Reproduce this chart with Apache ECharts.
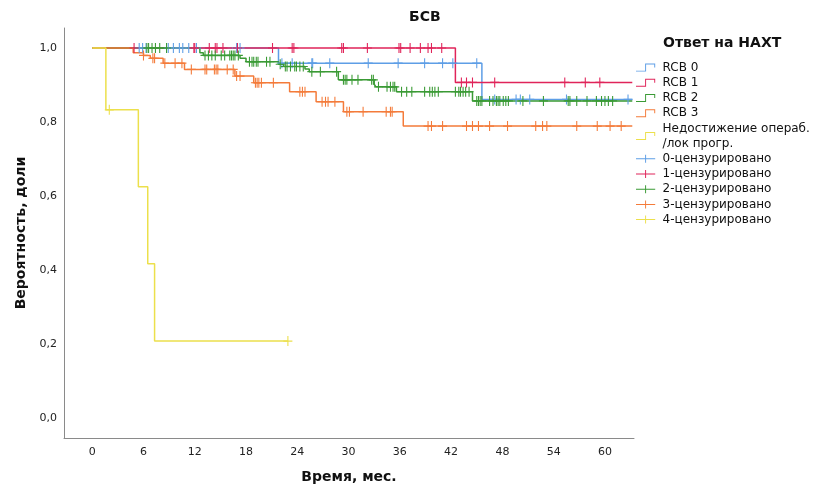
<!DOCTYPE html>
<html><head><meta charset="utf-8">
<script src="https://cdn.jsdelivr.net/npm/echarts@6/dist/echarts.min.js"></script>
<style>html,body{margin:0;padding:0;background:#fff}#c{width:814px;height:489px}</style>
</head><body><div id="c"></div>
<script>
// ---- data ----
const groupNames = ['RCB 0', 'RCB 1', 'RCB 2', 'RCB 3', 'Недостижение операб.\n/лок прогр.'];
const censorNames = ['0-цензурировано', '1-цензурировано', '2-цензурировано', '3-цензурировано', '4-цензурировано'];
const colors = ['#5e9ee6', '#e0245a', '#3a9a35', '#f47b3a', '#ece04c'];

// step curves: event times (months) and survival after the step
const times0 = [0, 21.8, 45.6, 63.2];
const surv0  = [1, 0.959, 0.861, 0.861];
const times1 = [0, 42.5, 63.2];
const surv1  = [1, 0.907, 0.907];
const times2 = [0, 12.6, 13.0, 17.3, 18.0, 21.8, 22.4, 24.9, 25.4, 28.8, 33.0, 33.2, 35.6, 44.5, 63.2];
const surv2  = [1, 0.987, 0.980, 0.972, 0.963, 0.956, 0.950, 0.943, 0.936, 0.914, 0.902, 0.895, 0.882, 0.857, 0.857];
const times3 = [0, 4.8, 6.0, 6.8, 8.3, 10.8, 16.7, 18.9, 23.1, 26.2, 29.4, 36.4, 63.2];
const surv3  = [1, 0.987, 0.980, 0.972, 0.959, 0.942, 0.924, 0.906, 0.882, 0.855, 0.828, 0.789, 0.789];
const times4 = [0, 1.6, 5.4, 6.5, 7.3, 22.9];
const surv4  = [1, 0.833, 0.625, 0.417, 0.208, 0.208];

// censored observation times
const censor0 = [5.5, 5.9, 6.3, 8.9, 9.5, 10.2, 10.6, 11.3, 12.2, 16.9, 17.3, 22.2, 23.4, 25.7, 25.8, 27.8, 32.3, 35.8, 38.9, 41.0, 42.2, 45.0, 47.1, 49.6, 50.1, 51.2, 55.5, 62.7];
const censor1 = [4.9, 11.9, 12.0, 13.7, 14.4, 14.6, 15.3, 17.0, 21.1, 23.4, 23.6, 29.2, 29.4, 32.2, 35.9, 36.1, 37.2, 38.4, 39.3, 39.7, 40.9, 43.2, 43.8, 44.5, 47.1, 55.3, 57.7, 59.4];
const censor2 = [6.4, 6.6, 7.0, 7.4, 7.9, 8.7, 13.2, 13.6, 14.0, 14.4, 15.1, 15.5, 16.1, 16.3, 16.5, 16.7, 17.1, 18.4, 18.7, 18.9, 19.2, 19.4, 20.4, 20.8, 22.0, 22.6, 22.8, 23.2, 23.7, 23.9, 24.3, 24.7, 25.7, 26.7, 28.6, 29.4, 29.6, 29.8, 30.4, 31.1, 32.7, 32.9, 33.5, 34.5, 34.9, 35.2, 35.4, 36.2, 36.8, 37.4, 38.9, 39.5, 39.8, 40.1, 40.5, 42.5, 42.9, 43.1, 43.4, 43.7, 44.1, 45.0, 45.2, 45.4, 45.6, 46.5, 46.9, 47.3, 47.5, 47.7, 48.1, 48.4, 48.7, 50.4, 52.8, 55.7, 55.9, 56.7, 57.9, 59.0, 59.6, 60.0, 60.4, 60.9];
const censor3 = [6.0, 7.1, 7.3, 8.5, 9.7, 10.5, 11.6, 13.2, 13.4, 14.3, 14.5, 14.7, 15.8, 16.5, 16.9, 17.3, 19.1, 19.3, 19.5, 19.8, 21.2, 24.3, 24.6, 24.9, 26.9, 27.3, 27.6, 28.4, 29.8, 30.1, 31.7, 34.4, 34.9, 35.1, 39.3, 39.7, 41.0, 43.8, 44.5, 45.2, 46.5, 48.6, 51.9, 52.7, 53.2, 56.7, 59.1, 60.6, 61.9];
const censor4 = [2.0, 22.9];

const xTicks = [0, 6, 12, 18, 24, 30, 36, 42, 48, 54, 60];
const yTicks = [0, 0.2, 0.4, 0.6, 0.8, 1.0];

// ---- build ----
const allTimes = [times0, times1, times2, times3, times4];
const allSurv = [surv0, surv1, surv2, surv3, surv4];
const allCensor = [censor0, censor1, censor2, censor3, censor4];

function survAt(times, surv, t) {
  let v = surv[0];
  for (let i = 0; i < times.length; i++) { if (times[i] <= t) v = surv[i]; }
  return v;
}

const stepIcon = 'path://M0,8.8h12.6v1.2h-12.6z M11.4,0h1.2v10h-1.2z M11.4,0h12.6v1.2h-12.6z M22.8,0h1.2v5h-1.2z';
const plusIcon = 'path://M0,4.4h24v1.2h-24z M11.4,0h1.2v10h-1.2z';
const plusSym = 'path://M0,4.4h10v1.2h-10z M4.4,0h1.2v10h-1.2z';

const series = [];
const drawOrder = [0, 1, 2, 3, 4];
drawOrder.forEach(g => {
  series.push({
    name: groupNames[g], type: 'line', step: 'end', showSymbol: false, symbol: 'none',
    data: allTimes[g].map((t, i) => [t, allSurv[g][i]]),
    lineStyle: { color: colors[g], width: 1.5 },
    itemStyle: { color: colors[g], borderWidth: 0 },
    z: 2 + g * 0.1, silent: true, animation: false
  });
});
drawOrder.forEach(g => {
  series.push({
    name: censorNames[g], type: 'scatter',
    data: allCensor[g].map(t => [t, survAt(allTimes[g], allSurv[g], t)]),
    symbol: plusSym, symbolSize: [9, 10],
    itemStyle: { color: colors[g], borderWidth: 0, opacity: 1 },
    z: 3, silent: true, animation: false
  });
});

const legendData = groupNames.map(n => ({ name: n, icon: stepIcon }))
  .concat(censorNames.map(n => ({ name: n, icon: plusIcon })));

const font = 'DejaVu Sans';
const chart = echarts.init(document.getElementById('c'), null, { renderer: 'canvas' });
chart.setOption({
  animation: false,
  backgroundColor: '#fff',
  title: [
    { text: 'БСВ', left: 409, top: 10, padding: 0, textStyle: { fontFamily: font, fontSize: 14, fontWeight: 'bold', color: '#111' } },
    { text: 'Ответ на НАХТ', left: 663, top: 36, padding: 0, textStyle: { fontFamily: font, fontSize: 14, fontWeight: 'bold', color: '#111' } }
  ],
  legend: {
    data: legendData, orient: 'vertical', left: 636, top: 60, padding: 0,
    itemWidth: 24, itemHeight: 8, itemGap: 0,
    itemStyle: { borderWidth: 0 },
    textStyle: { fontFamily: font, fontSize: 12, color: '#111', lineHeight: 15.2 },
    selectedMode: false
  },
  grid: { left: 64, top: 28, width: 570, height: 410, containLabel: false, outerBoundsMode: 'none' },
  xAxis: {
    type: 'value', min: -3.3, max: 63.4,
    name: 'Время, мес.', nameLocation: 'middle', nameGap: 32,
    nameTextStyle: { fontFamily: font, fontSize: 14, fontWeight: 'bold', color: '#111' },
    axisLine: { show: true, onZero: false, lineStyle: { color: '#8a8a8a', width: 1 } },
    axisTick: { show: false },
    splitLine: { show: false },
    axisLabel: { customValues: xTicks, fontFamily: font, fontSize: 11, color: '#222', margin: 9,
      formatter: v => String(Math.round(v)) }
  },
  yAxis: {
    type: 'value', min: -0.054, max: 1.054,
    name: 'Вероятность, доли', nameLocation: 'middle', nameGap: 36, nameRotate: 90,
    nameTextStyle: { fontFamily: font, fontSize: 14, fontWeight: 'bold', color: '#111' },
    axisLine: { show: true, onZero: false, lineStyle: { color: '#8a8a8a', width: 1 } },
    axisTick: { show: false },
    splitLine: { show: false },
    axisLabel: { customValues: yTicks, fontFamily: font, fontSize: 11, color: '#222', margin: 7,
      formatter: v => v.toFixed(1).replace('.', ',') }
  },
  series: series
});
</script></body></html>
